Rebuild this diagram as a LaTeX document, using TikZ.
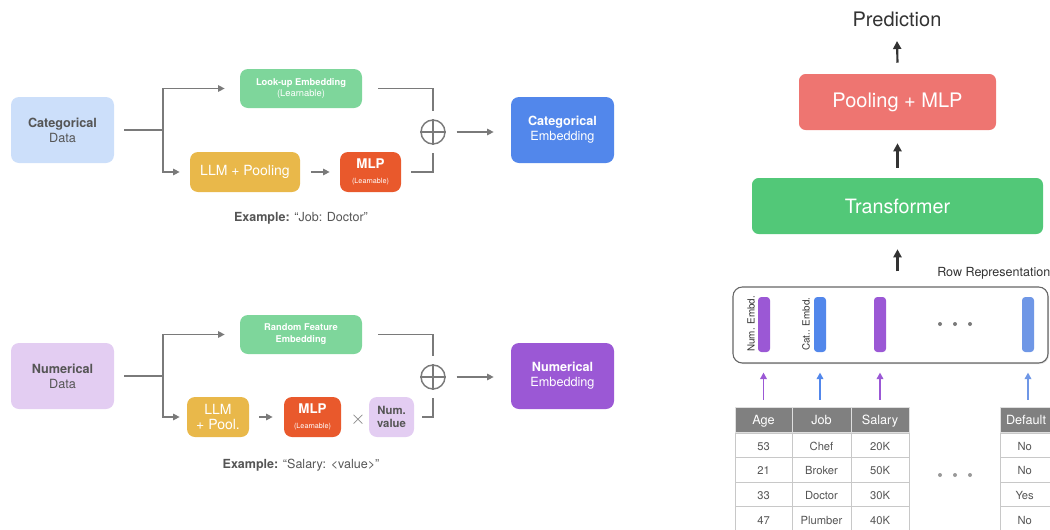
\documentclass[tikz,border=0pt]{standalone}
\usepackage{fontspec}
\setmainfont{TeX Gyre Heros}
\usetikzlibrary{arrows.meta,shadows}
\definecolor{txtgray}{HTML}{555555}
\definecolor{arrgray}{HTML}{7A7A7A}
\definecolor{darkarr}{HTML}{333333}
\definecolor{catlight}{HTML}{CCDFFA}
\definecolor{numlight}{HTML}{E3CDF2}
\definecolor{lgreen}{HTML}{7ED69B}
\definecolor{llmyellow}{HTML}{E9B84A}
\definecolor{mlpred}{HTML}{E9592C}
\definecolor{catblue}{HTML}{5287EB}
\definecolor{numpurple}{HTML}{9B58D5}
\definecolor{poolred}{HTML}{EE7571}
\definecolor{transgreen}{HTML}{52C878}
\definecolor{hdrgray}{HTML}{808080}
\definecolor{cellline}{HTML}{C8C8C8}
\definecolor{lblue}{HTML}{6F97E6}
\begin{document}
\begin{tikzpicture}[x=0.75pt,y=-0.75pt,
  rect/.style n args={4}{minimum width={(#3-#1)*0.75pt}, minimum height={(#4-#2)*0.75pt}, at={({(#1+#3)/2},{(#2+#4)/2})}},
  box/.style={rounded corners=6pt, inner sep=0pt, align=center, text=white},
  gl/.style={draw=arrgray, line width=1.3pt},
  ga/.style={gl, -{Triangle[length=5pt,width=4.8pt]}},
  da/.style={draw=darkarr, line width=1.6pt, -{Triangle[length=6pt,width=6pt]}},
  oplusnode/.style={circle, draw=arrgray, line width=1.1pt, minimum size=18pt, inner sep=0pt},
  plusline/.style={draw=arrgray, line width=0.9pt},
  bigtxt/.style={font=\fontsize{9.5}{11.3}\selectfont},
  midtxt/.style={font=\fontsize{10.5}{11.3}\selectfont},
  bar/.style={rounded corners=2.5pt, inner sep=0pt},
  cell/.style={draw=cellline, line width=0.6pt, inner sep=0pt, text=txtgray, text height=7.5pt, text depth=0pt, font=\fontsize{8.4}{10}\selectfont},
  hcell/.style={draw=white!75!hdrgray, fill=hdrgray, line width=0.6pt, inner sep=0pt, text=white, text height=8pt, text depth=0pt, font=\fontsize{9.5}{11}\selectfont},
  colarr/.style={line width=1.4pt, -{Triangle[length=5pt,width=5pt]}},
  dotc/.style={circle, inner sep=0pt, minimum size=3pt}
]
\useasboundingbox (0,0) rectangle (1050,529);

% ================= Categorical branch =================
\node[box, fill=catlight, text=txtgray, bigtxt, rect={11}{97}{114}{163}] (catdata) {\textbf{Categorical}\\Data};
\node[box, fill=lgreen, font=\fontsize{7}{8.3}\selectfont, rect={240}{69}{362}{108}] (lookup) {\textbf{Look-up Embedding}\\(Learnable)};
\node[box, fill=llmyellow, midtxt, rect={190}{152}{300}{192}] (llm) {LLM + Pooling};
\node[box, fill=mlpred, rect={340}{152}{401}{192}] (mlp) {{\fontsize{10}{10}\selectfont\textbf{MLP}}\\[-1pt]{\fontsize{5.4}{6}\selectfont (Learnable)}};
\node[oplusnode] (oplus) at (433,132) {};
\draw[plusline] (oplus.north) -- (oplus.south);
\draw[plusline] (oplus.west) -- (oplus.east);
\node[box, fill=catblue, bigtxt, rect={511}{97}{614}{163}] (catemb) {\textbf{Categorical}\\Embedding};
\coordinate (split1) at (163,130);
\draw[gl] ([xshift=7.5pt]catdata.east) -- (split1);
\draw[ga] (split1) |- ([xshift=-11.25pt]lookup.west);
\draw[ga] (split1) |- ([xshift=-7.5pt]llm.west);
\draw[ga] ([xshift=8pt]llm.east) -- ([xshift=-7.5pt]mlp.west);
\draw[gl, shorten >=6pt] ([xshift=12pt]lookup.east) -| (oplus.north);
\draw[gl, shorten >=6pt] ([xshift=7.5pt]mlp.east) -| (oplus.south);
\draw[ga] ([xshift=8.25pt]oplus.east) -- ([xshift=-12.75pt]oplus.east -| catemb.west);
\node[text=txtgray, font=\fontsize{9.4}{11}\selectfont] (ex1) at (301,218) {\textbf{Example:} “Job: Doctor”};

% ================= Numerical branch =================
\node[box, fill=numlight, text=txtgray, bigtxt, rect={11}{343}{114}{409}] (numdata) {\textbf{Numerical}\\Data};
\node[box, fill=lgreen, font=\fontsize{7}{9}\selectfont, rect={240}{315}{362}{354}] (rfe) {\textbf{Random Feature}\\\textbf{Embedding}};
\node[box, fill=llmyellow, font=\fontsize{10.5}{11.3}\selectfont, rect={187}{397}{249}{437}] (llm2) {LLM\\+ Pool.};
\node[box, fill=mlpred, rect={284}{397}{341}{437}] (mlp2) {{\fontsize{10}{10}\selectfont\textbf{MLP}}\\[-1pt]{\fontsize{5.4}{6}\selectfont (Learnable)}};
\node[text=arrgray, inner sep=0pt, font=\fontsize{15}{15}\selectfont] (times) at (358,420) {$\times$};
\node[box, fill=numlight, text=txtgray, font=\fontsize{8.5}{9.8}\selectfont, rect={369}{397}{414}{437}] (numval) {\textbf{Num.}\\\textbf{value}};
\node[oplusnode] (oplus2) at (433,377) {};
\draw[plusline] (oplus2.north) -- (oplus2.south);
\draw[plusline] (oplus2.west) -- (oplus2.east);
\node[box, fill=numpurple, bigtxt, rect={511}{343}{614}{409}] (numemb) {\textbf{Numerical}\\Embedding};
\coordinate (split2) at (163,376);
\draw[gl] ([xshift=7.5pt]numdata.east) -- (split2);
\draw[ga] (split2) |- ([xshift=-11.25pt]rfe.west);
\draw[ga] (split2) |- ([xshift=-5.25pt]llm2.west);
\draw[ga] ([xshift=7.5pt]llm2.east) -- ([xshift=-8.25pt]mlp2.west);
\draw[gl, shorten >=6pt] ([xshift=12pt]rfe.east) -| (oplus2.north);
\draw[gl, shorten >=6pt] ([xshift=6pt]numval.east) -| (oplus2.south);
\draw[ga] ([xshift=8.25pt]oplus2.east) -- ([xshift=-12.75pt]oplus2.east -| numemb.west);
\node[text=txtgray, font=\fontsize{9.4}{11}\selectfont] (ex2) at (301,465) {\textbf{Example:} “Salary: <value>”};

% ================= Right side =================
\node[text=darkarr, inner sep=0pt, font=\fontsize{15}{17}\selectfont] (pred) at (897,19) {Prediction};
\node[box, rounded corners=5pt, fill=poolred, font=\fontsize{15}{17}\selectfont, rect={799}{74}{996}{130}] (pool) {Pooling + MLP};
\node[box, rounded corners=5pt, fill=transgreen, font=\fontsize{14.8}{17}\selectfont, rect={752}{178}{1043}{234}] (trans) {Transformer};
\draw[da] ([yshift=8.25pt]pool.north) -- ([yshift=-16.5pt]pred.center);
\draw[da] ([yshift=7.5pt]trans.north) -- ([yshift=-9.75pt]pool.south);

\node[anchor=west, inner sep=0pt, text=darkarr, font=\fontsize{9.4}{11}\selectfont] (rowlbl) at (937,273) {Row Representation};
\node[draw=black!60, line width=0.8pt, rounded corners=7pt, inner sep=0pt, fill=white,
      drop shadow={opacity=0.25,shadow xshift=0.8pt,shadow yshift=-0.8pt},
      rect={733}{287}{1048}{363}] (rowrep) {};
\draw[da] ([yshift=11.25pt]trans.south |- rowrep.north) -- ([yshift=-11.25pt]trans.south);

\node[bar, fill=numpurple, rect={758}{297}{770}{352}] (bar1) {};
\node[bar, fill=catblue, rect={814}{297}{826}{352}] (bar2) {};
\node[bar, fill=numpurple, rect={874}{297}{886}{352}] (bar3) {};
\node[bar, fill=lblue, rect={1022}{297}{1034}{352}] (bar4) {};
\node[rotate=90, anchor=west, inner sep=0pt, text=darkarr, font=\fontsize{7.4}{8}\selectfont] (lblnum) at (751,352) {Num. Embd.};
\node[rotate=90, anchor=west, inner sep=0pt, text=darkarr, font=\fontsize{7.4}{8}\selectfont] (lblcat) at (806,351) {Cat.. Embd.};
\node[dotc, fill=arrgray] (rd1) at (940,324) {};
\node[dotc, fill=arrgray] (rd2) at (955,324) {};
\node[dotc, fill=arrgray] (rd3) at (970,324) {};

% table
\node[fill=white, inner sep=0pt, drop shadow={opacity=0.25,shadow xshift=1pt,shadow yshift=-0.5pt}, rect={735}{407}{909}{533}] (tblbg) {};
\node[fill=white, inner sep=0pt, drop shadow={opacity=0.25,shadow xshift=1pt,shadow yshift=-0.5pt}, rect={1000}{407}{1060}{533}] (tblbg2) {};
\node[hcell, rect={735}{407}{792}{432}] (hage) {Age};
\node[hcell, rect={792}{407}{851}{432}] (hjob) {Job};
\node[hcell, rect={851}{407}{909}{432}] (hsal) {Salary};
\node[hcell, rect={1000}{407}{1060}{432}] (hdef) {\hspace*{-6pt}Default};
\foreach \a/\b/\c/\d [count=\i] in {53/Chef/20K/No, 21/Broker/50K/No, 33/Doctor/30K/Yes, 47/Plumber/40K/No}{
  \pgfmathsetmacro\yt{433+24.6*(\i-1)}
  \pgfmathsetmacro\yb{\yt+24.6}
  \node[cell, rect={735}{\yt}{792}{\yb}] (a\i) {\a};
  \node[cell, rect={792}{\yt}{851}{\yb}] (b\i) {\b};
  \node[cell, rect={851}{\yt}{909}{\yb}] (c\i) {\c};
  \node[cell, rect={1000}{\yt}{1060}{\yb}] (d\i) {\hspace*{-8pt}\d};
}
\node[dotc, fill=black!40] (td1) at (940,475) {};
\node[dotc, fill=black!40] (td2) at (955,475) {};
\node[dotc, fill=black!40] (td3) at (970,475) {};

\draw[colarr, numpurple] ([yshift=5.25pt]hage.north) -- ([yshift=-6.75pt]hage.north |- rowrep.south);
\draw[colarr, catblue] ([yshift=5.25pt]bar2.south |- hjob.north) -- ([yshift=-6.75pt]bar2.south |- rowrep.south);
\draw[colarr, numpurple] ([yshift=5.25pt]hsal.north) -- ([yshift=-6.75pt]hsal.north |- rowrep.south);
\draw[colarr, lblue] ([yshift=5.25pt]bar4.south |- hdef.north) -- ([yshift=-6.75pt]bar4.south |- rowrep.south);
\end{tikzpicture}
\end{document}
